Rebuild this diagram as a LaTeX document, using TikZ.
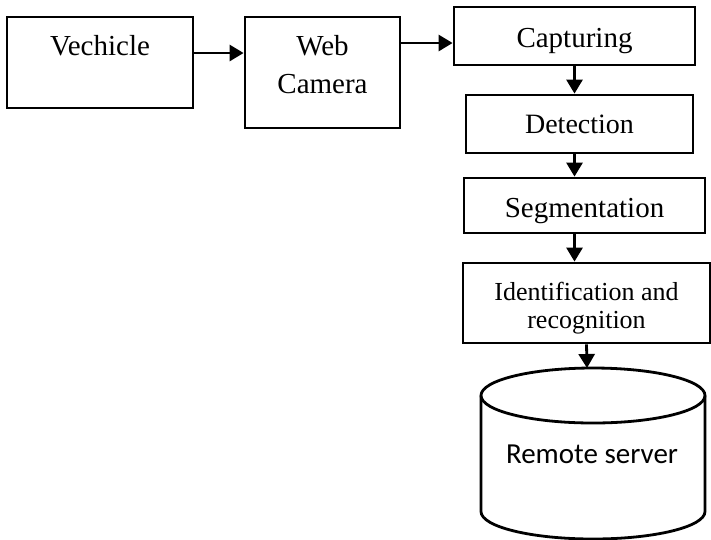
\documentclass[tikz,border=0pt]{standalone}
\usepackage{fontspec}
\setmainfont{Liberation Serif}
\newfontfamily\srvfont{Carlito}
\usetikzlibrary{arrows.meta}

\begin{document}
\begin{tikzpicture}[
    x=1pt, y=-1pt,
    stage/.style={draw, line width=2.8pt, inner sep=0pt, align=center, font=\fontsize{29}{38}\selectfont},
    arr/.style={-{Triangle[length=14pt,width=16pt]}, line width=2.8pt}
]
\useasboundingbox (0,0) rectangle (711,539);

% Input row
\node[stage, minimum width=186pt, text height=38pt, text depth=53pt] (veh) at (100,62.5) {Vechicle};
\node[stage, minimum width=155pt, text height=76pt, text depth=35pt] (cam) at (322.5,72.5) {Web\\Camera};

% Processing chain
\node[stage, minimum width=241pt, text height=40pt, text depth=18pt] (cap) at (574.5,36) {Capturing};
\node[stage, minimum width=227pt, text height=38pt, text depth=20pt, font=\fontsize{28}{34}\selectfont] (det) at (579.5,124) {Detection};
\node[stage, minimum width=241pt, text height=39pt, text depth=16pt] (seg) at (584.5,205.5) {Segmentation};
\node[stage, minimum width=247pt, text height=65pt, text depth=15pt, font=\fontsize{26}{28}\selectfont] (idf) at (586.5,303) {Identification and\\recognition};

% Remote server drum
\coordinate (srvtop) at (587,368);
\draw[line width=2.8pt] (593,395.5) ellipse [x radius=112pt, y radius=27.5pt];
\draw[line width=2.8pt] (481,395.5) -- (481,511.5) arc [start angle=180, end angle=360, x radius=112pt, y radius=27.5pt] -- (705,395.5);
\node[font=\srvfont\fontsize{29}{33}\selectfont, anchor=base] (srv) at (592,463) {Remote server};

\draw[arr] ([yshift=9.5pt]veh.east) -- ([yshift=9.5pt]veh.east -| cam.west);
\draw[arr] ([yshift=-7pt]cap.west -| cam.east) -- ([yshift=-7pt]cap.west);
\draw[arr] (cap.south) -- (cap.south |- det.north);
\draw[arr] (det.south -| cap.south) -- (seg.north -| cap.south);
\draw[arr] (seg.south -| cap.south) -- (idf.north -| cap.south);
\draw[arr] (idf.south) -- (srvtop);

\end{tikzpicture}
\end{document}
